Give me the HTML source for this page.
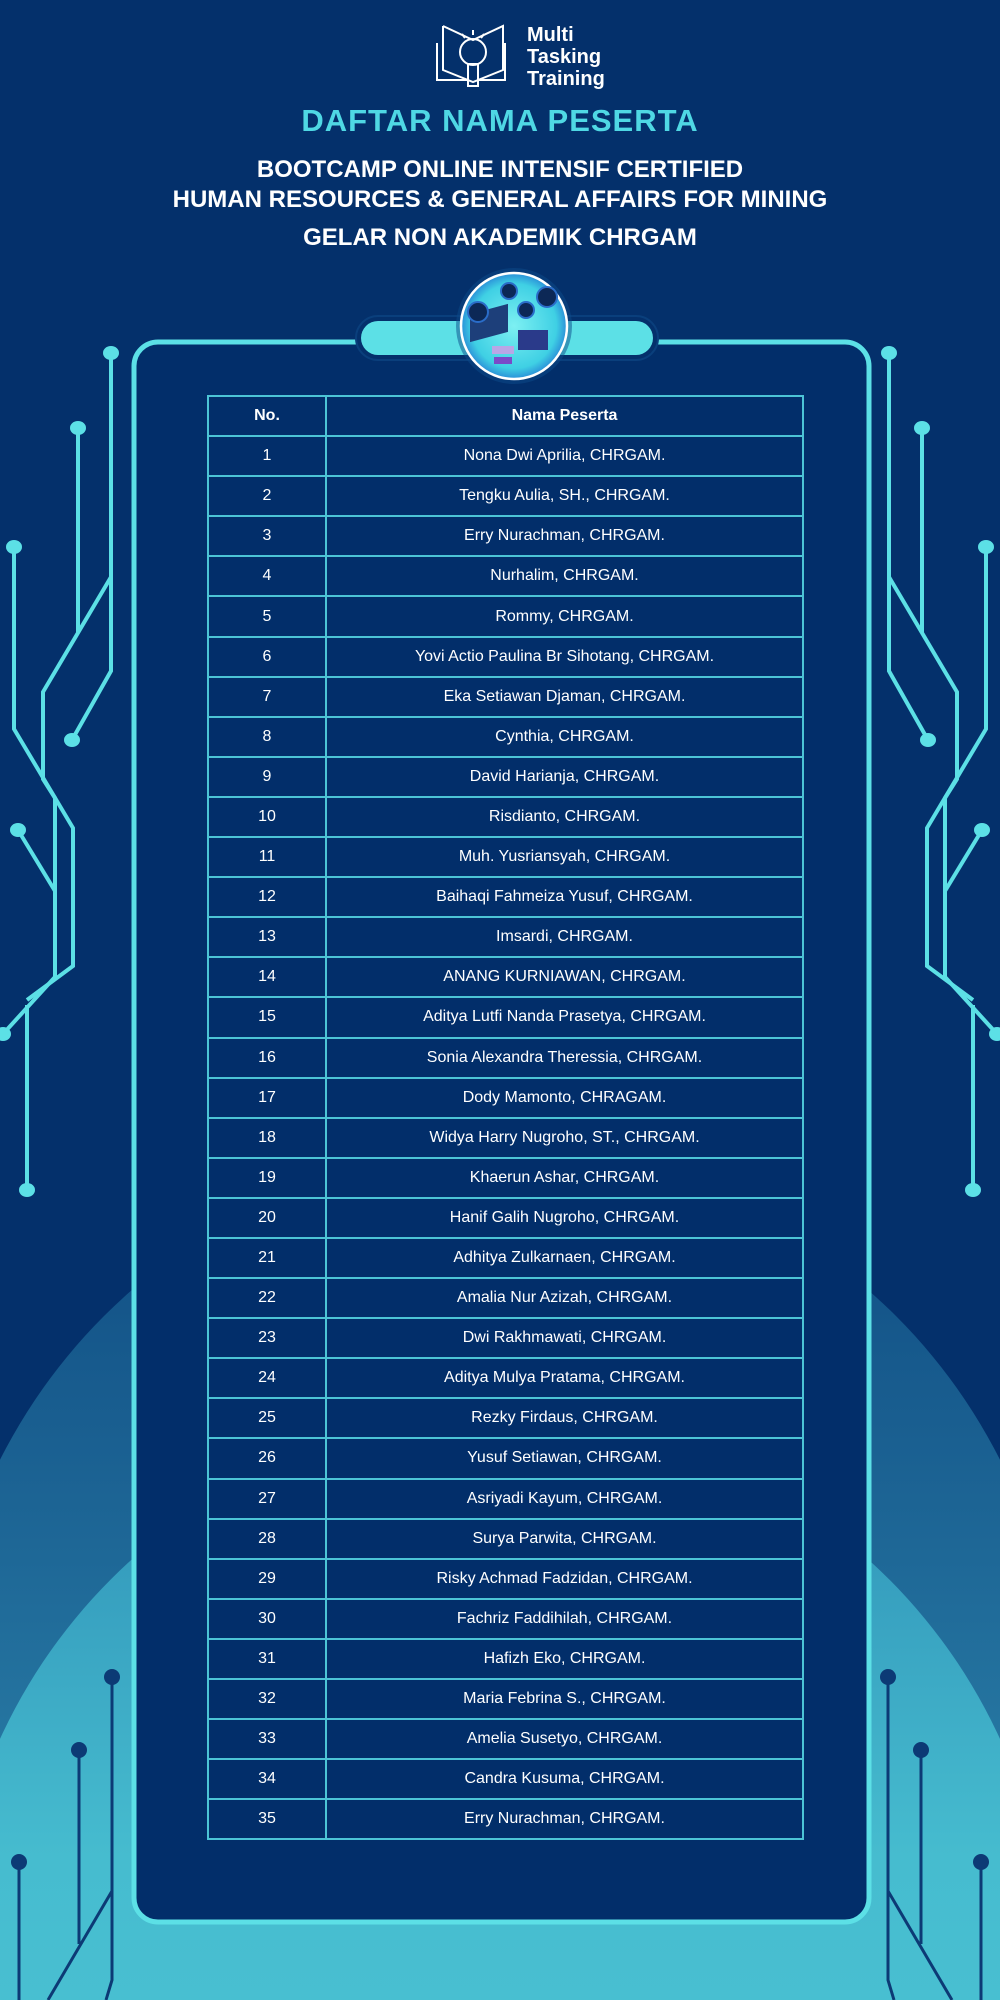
<!DOCTYPE html>
<html><head><meta charset="utf-8">
<style>
html,body{margin:0;padding:0;width:1000px;height:2000px;overflow:hidden;}
body{position:relative;background:#04306b;font-family:"Liberation Sans",sans-serif;}
svg.bg{position:absolute;left:0;top:0;}
.t{position:absolute;left:0;width:1000px;text-align:center;font-weight:bold;color:#fff;white-space:nowrap;}
table{position:absolute;left:207px;top:395px;width:597px;border-collapse:collapse;color:#fff;}
td{border:2px solid #4cc4d6;height:38.1px;text-align:center;font-size:16px;padding:0;}
td.n{width:116px;}
tr.h td{font-weight:bold;}
.logo{position:absolute;left:527px;top:24px;color:#fff;font-weight:bold;font-size:20px;line-height:22px;}
</style></head><body>
<svg class="bg" width="1000" height="2000" viewBox="0 0 1000 2000">
<defs>
<linearGradient id="g1" x1="0" y1="0" x2="0" y2="1"><stop offset="0" stop-color="#0f4b82"/><stop offset="0.5" stop-color="#24739f"/><stop offset="1" stop-color="#3aa3c2"/></linearGradient>
<linearGradient id="g2" x1="0" y1="0" x2="0" y2="1"><stop offset="0" stop-color="#2e8fb6"/><stop offset="0.4" stop-color="#46bccf"/><stop offset="1" stop-color="#50cad8"/></linearGradient>
<radialGradient id="cg" cx="0.5" cy="0.5" r="0.5"><stop offset="0" stop-color="#7df0f2"/><stop offset="0.8" stop-color="#3fd0e4"/><stop offset="1" stop-color="#2a8fd8"/></radialGradient>
<g id="circ" fill="none" stroke="#5ce0e6" stroke-width="4">
<polyline points="111,353 111,671 72,740"/>
<polyline points="111,577 43,692 43,779 55,798 55,977 3,1034"/>
<polyline points="78,428 78,633"/>
<polyline points="14,547 14,729 73,828 73,966 27,1000"/>
<polyline points="18,830 55,891"/>
<polyline points="27,1005 27,1190"/>
<g fill="#5ce0e6" stroke="none">
<ellipse cx="111" cy="353" rx="8" ry="7"/><ellipse cx="78" cy="428" rx="8" ry="7"/><ellipse cx="14" cy="547" rx="8" ry="7"/><ellipse cx="72" cy="740" rx="8" ry="7"/><ellipse cx="18" cy="830" rx="8" ry="7"/><ellipse cx="3" cy="1034" rx="8" ry="7"/><ellipse cx="27" cy="1190" rx="8" ry="7"/>
</g></g>
<g id="bc" fill="none" stroke="#0c3a75" stroke-width="3">
<polyline points="112,1677 112,1891 48,2000"/>
<polyline points="112,1891 112,1980 106,2000"/>
<polyline points="79,1750 79,1944"/>
<polyline points="19,1862 19,2000"/>
<g fill="#0c3a75" stroke="none"><ellipse cx="112" cy="1677" rx="8" ry="8"/><ellipse cx="79" cy="1750" rx="8" ry="8"/><ellipse cx="19" cy="1862" rx="8" ry="8"/></g>
</g>
</defs>
<circle cx="500" cy="1712" r="560" fill="url(#g1)"/>
<circle cx="500" cy="1968" r="550" fill="url(#g2)"/>
<use href="#circ"/>
<use href="#circ" transform="translate(1000,0) scale(-1,1)"/>
<use href="#bc"/>
<use href="#bc" transform="translate(1000,0) scale(-1,1)"/>
<rect x="134" y="342" width="735" height="1580" rx="24" fill="#022e6a" stroke="#5ce0e6" stroke-width="5"/>
<rect x="356" y="316" width="302" height="44" rx="22" fill="#04306b" stroke="#0a3f7c" stroke-width="2"/>
<rect x="361" y="321" width="292" height="34" rx="17" fill="#5ce0e6"/>
<circle cx="514" cy="326" r="58" fill="#0b4a8a" opacity="0.5"/>
<circle cx="514" cy="326" r="53" fill="url(#cg)" stroke="#ffffff" stroke-width="2.5"/>
<rect x="470" y="312" width="38" height="28" fill="#1d3f7a" transform="skewY(-15) translate(0,128)"/>
<rect x="518" y="330" width="30" height="20" fill="#2a3a8a"/>
<rect x="492" y="346" width="22" height="8" fill="#b9a6e6"/>
<rect x="494" y="357" width="18" height="7" fill="#7a4ac8"/>
<circle cx="478" cy="312" r="10" fill="#0c2856" stroke="#2a6cc8" stroke-width="2"/>
<circle cx="509" cy="291" r="8" fill="#0c2856" stroke="#2a6cc8" stroke-width="2"/>
<circle cx="547" cy="297" r="10" fill="#0c2856" stroke="#2a6cc8" stroke-width="2"/>
<circle cx="526" cy="310" r="8" fill="#0c2856" stroke="#2a6cc8" stroke-width="2"/>
<g fill="none" stroke="#fff" stroke-width="2">
<polyline points="437,43 437,80 469,80"/>
<polyline points="505,43 505,80 478,80"/>
<polyline points="443,26 443,70 473,82 503,70 503,26 473,40 443,26"/>
<circle cx="473" cy="52" r="13"/>
<rect x="468" y="64" width="10" height="22"/>
<line x1="473" y1="30" x2="473" y2="35"/><line x1="462" y1="34" x2="465" y2="38"/><line x1="484" y1="34" x2="481" y2="38"/>
</g>
</svg>
<div class="logo">Multi<br>Tasking<br>Training</div>
<div class="t" style="top:103px;font-size:31px;color:#4fd8e4;letter-spacing:1px;">DAFTAR NAMA PESERTA</div>
<div class="t" style="top:156px;font-size:24px;">BOOTCAMP ONLINE INTENSIF CERTIFIED</div>
<div class="t" style="top:186px;font-size:24px;">HUMAN RESOURCES &amp; GENERAL AFFAIRS FOR MINING</div>
<div class="t" style="top:224px;font-size:24px;">GELAR NON AKADEMIK CHRGAM</div>
<table>
<tr class="h"><td class="n">No.</td><td>Nama Peserta</td></tr>
<tr><td class="n">1</td><td>Nona Dwi Aprilia, CHRGAM.</td></tr>
<tr><td class="n">2</td><td>Tengku Aulia, SH., CHRGAM.</td></tr>
<tr><td class="n">3</td><td>Erry Nurachman, CHRGAM.</td></tr>
<tr><td class="n">4</td><td>Nurhalim, CHRGAM.</td></tr>
<tr><td class="n">5</td><td>Rommy, CHRGAM.</td></tr>
<tr><td class="n">6</td><td>Yovi Actio Paulina Br Sihotang, CHRGAM.</td></tr>
<tr><td class="n">7</td><td>Eka Setiawan Djaman, CHRGAM.</td></tr>
<tr><td class="n">8</td><td>Cynthia, CHRGAM.</td></tr>
<tr><td class="n">9</td><td>David Harianja, CHRGAM.</td></tr>
<tr><td class="n">10</td><td>Risdianto, CHRGAM.</td></tr>
<tr><td class="n">11</td><td>Muh. Yusriansyah, CHRGAM.</td></tr>
<tr><td class="n">12</td><td>Baihaqi Fahmeiza Yusuf, CHRGAM.</td></tr>
<tr><td class="n">13</td><td>Imsardi, CHRGAM.</td></tr>
<tr><td class="n">14</td><td>ANANG KURNIAWAN, CHRGAM.</td></tr>
<tr><td class="n">15</td><td>Aditya Lutfi Nanda Prasetya, CHRGAM.</td></tr>
<tr><td class="n">16</td><td>Sonia Alexandra Theressia, CHRGAM.</td></tr>
<tr><td class="n">17</td><td>Dody Mamonto, CHRAGAM.</td></tr>
<tr><td class="n">18</td><td>Widya Harry Nugroho, ST., CHRGAM.</td></tr>
<tr><td class="n">19</td><td>Khaerun Ashar, CHRGAM.</td></tr>
<tr><td class="n">20</td><td>Hanif Galih Nugroho, CHRGAM.</td></tr>
<tr><td class="n">21</td><td>Adhitya Zulkarnaen, CHRGAM.</td></tr>
<tr><td class="n">22</td><td>Amalia Nur Azizah, CHRGAM.</td></tr>
<tr><td class="n">23</td><td>Dwi Rakhmawati, CHRGAM.</td></tr>
<tr><td class="n">24</td><td>Aditya Mulya Pratama, CHRGAM.</td></tr>
<tr><td class="n">25</td><td>Rezky Firdaus, CHRGAM.</td></tr>
<tr><td class="n">26</td><td>Yusuf Setiawan, CHRGAM.</td></tr>
<tr><td class="n">27</td><td>Asriyadi Kayum, CHRGAM.</td></tr>
<tr><td class="n">28</td><td>Surya Parwita, CHRGAM.</td></tr>
<tr><td class="n">29</td><td>Risky Achmad Fadzidan, CHRGAM.</td></tr>
<tr><td class="n">30</td><td>Fachriz Faddihilah, CHRGAM.</td></tr>
<tr><td class="n">31</td><td>Hafizh Eko, CHRGAM.</td></tr>
<tr><td class="n">32</td><td>Maria Febrina S., CHRGAM.</td></tr>
<tr><td class="n">33</td><td>Amelia Susetyo, CHRGAM.</td></tr>
<tr><td class="n">34</td><td>Candra Kusuma, CHRGAM.</td></tr>
<tr><td class="n">35</td><td>Erry Nurachman, CHRGAM.</td></tr>
</table>
</body></html>
